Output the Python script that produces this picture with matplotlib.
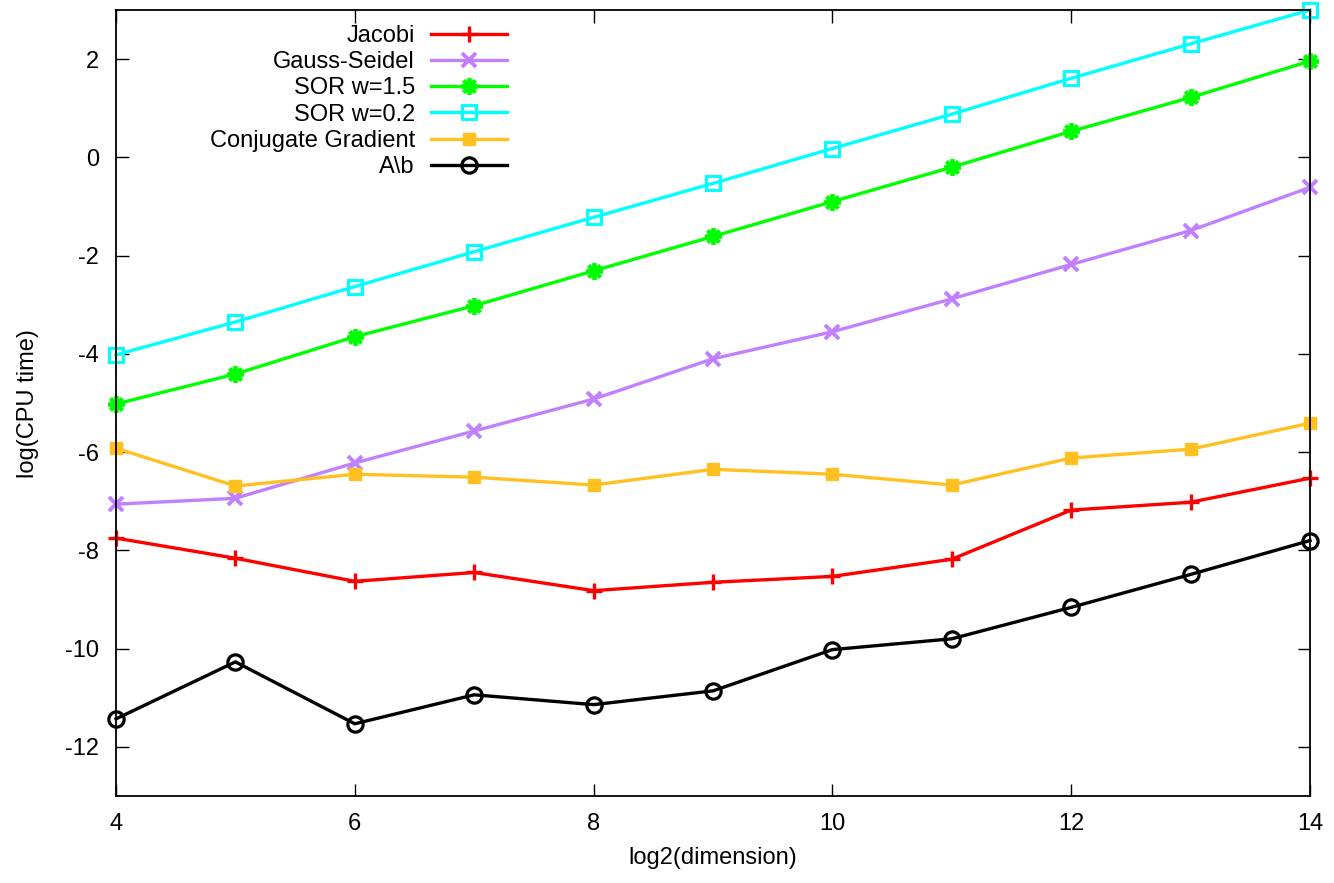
import matplotlib
matplotlib.use("Agg")
import matplotlib.pyplot as plt

plt.rcParams['font.family'] = ['Liberation Sans', 'DejaVu Sans']
plt.rcParams['axes.unicode_minus'] = False

x = [4, 5, 6, 7, 8, 9, 10, 11, 12, 13, 14]
jacobi = [-7.75, -8.16, -8.63, -8.45, -8.82, -8.65, -8.53, -8.18, -7.18, -7.02, -6.53]
gauss_seidel = [-7.06, -6.94, -6.22, -5.57, -4.92, -4.10, -3.55, -2.88, -2.18, -1.49, -0.61]
sor_15 = [-5.02, -4.41, -3.65, -3.02, -2.31, -1.61, -0.90, -0.20, 0.53, 1.22, 1.96]
sor_02 = [-4.02, -3.35, -2.63, -1.92, -1.22, -0.53, 0.18, 0.88, 1.61, 2.31, 3.00]
conj_grad = [-5.92, -6.69, -6.45, -6.51, -6.67, -6.35, -6.45, -6.67, -6.12, -5.94, -5.41]
backslash = [-11.43, -10.27, -11.53, -10.94, -11.14, -10.86, -10.02, -9.80, -9.16, -8.49, -7.80]

labels = ["Jacobi", "Gauss-Seidel", "SOR w=1.5", "SOR w=0.2", "Conjugate Gradient", "A\\b"]
xticks = [4, 6, 8, 10, 12, 14]
yticks = [-12, -10, -8, -6, -4, -2, 0, 2]

W, H = 1334, 883
fig = plt.figure(figsize=(W / 100, H / 100), dpi=100)
ax = fig.add_axes([116 / W, 1 - 796 / H, (1310 - 116) / W, (796 - 10) / H])

lw = 2.4
ax.plot(x, jacobi, color='#ff0000', lw=lw, marker='+', ms=12, mew=2.4, label=labels[0], clip_on=False)
ax.plot(x, gauss_seidel, color='#c080ff', lw=lw, marker='x', ms=10, mew=2.8, label=labels[1], clip_on=False)
ax.plot(x, sor_15, color='#00ff00', lw=lw, marker=(8, 2, 0), ms=12, mew=2.8, label=labels[2], clip_on=False)
ax.plot(x, sor_02, color='#00ffff', lw=lw, marker='s', ms=10, mew=2.2, mfc='none', label=labels[3], clip_on=False)
ax.plot(x, conj_grad, color='#ffc020', lw=lw, marker='s', ms=9, mew=1.0, label=labels[4], clip_on=False)
ax.plot(x, backslash, color='#000000', lw=lw, marker='o', ms=11, mew=2.3, mfc='none', label=labels[5], clip_on=False)

ax.set_xlim(4, 14)
ax.set_ylim(-13, 3)
ax.set_xticks(xticks)
ax.set_yticks(yticks)
ax.tick_params(direction='in', length=9, width=1, top=True, right=True,
               labelsize=17, colors='black')
ax.tick_params(axis='x', pad=12)
ax.tick_params(axis='y', pad=12)
for s in ax.spines.values():
    s.set_linewidth(1.3)

ax.set_xlabel("log2(dimension)", fontsize=17)
ax.set_ylabel("log(CPU time)", fontsize=17)
ax.xaxis.set_label_coords((116 + 1310) / 2 / W, 1 - 858 / H, transform=fig.transFigure)
ax.xaxis.label.set_va('center')
ax.yaxis.set_label_coords(28 / W, 1 - 404 / H, transform=fig.transFigure)
ax.yaxis.label.set_va('center')

leg = ax.legend(loc='upper right', bbox_to_anchor=(507 / W, 1 - 25 / H),
                bbox_transform=fig.transFigure, frameon=False, markerfirst=False,
                fontsize=17, handlelength=3.2, handletextpad=0.7, labelspacing=0.18,
                borderpad=0, borderaxespad=0)

fig.savefig("out.png", dpi=100)
